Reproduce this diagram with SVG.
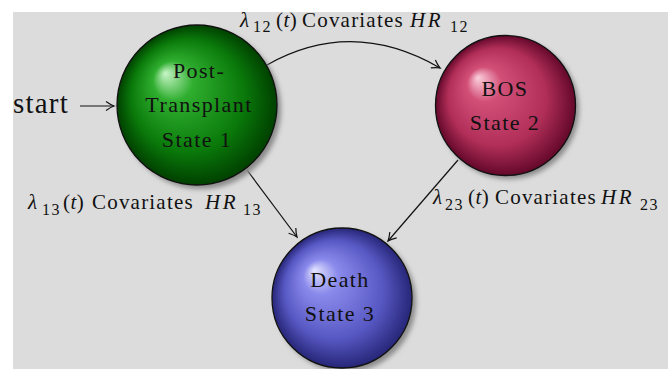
<svg xmlns="http://www.w3.org/2000/svg" width="668" height="369" viewBox="0 0 668 369">
<style>
.t{font-family:"Liberation Serif","Times New Roman",serif;font-size:21px;letter-spacing:1.2px;fill:#111}
.n{font-size:22px;letter-spacing:1.4px}
.it{font-style:italic}
.hr{letter-spacing:2.5px}
.ns{letter-spacing:0.4px}
.sub{font-size:16px;letter-spacing:1.5px}
.edge{fill:none;stroke:#111;stroke-width:1.2}
.ball{stroke:#111;stroke-width:1.3}
.shadow{fill:#8a8a8a;filter:url(#blur)}
</style>
<defs>
<filter id="blur" x="-20%" y="-20%" width="140%" height="140%"><feGaussianBlur stdDeviation="2.5"/></filter>
<marker id="arr" markerWidth="12" markerHeight="12" viewBox="-10 -6 12 12" refX="0" refY="0" orient="auto" markerUnits="userSpaceOnUse">
<path d="M-8,-4.5 Q-3,-1 0,0 Q-3,1 -8,4.5" fill="none" stroke="#111" stroke-width="1.2"/>
</marker>
<radialGradient id="gG" cx="0.5" cy="0.5" r="0.5" fx="0.3" fy="0.3">
<stop offset="0" stop-color="#c8f5c8"/><stop offset="0.25" stop-color="#2fae2f"/><stop offset="0.7" stop-color="#0a7a0a"/><stop offset="1" stop-color="#004000"/>
</radialGradient>
<radialGradient id="gP" cx="0.5" cy="0.5" r="0.5" fx="0.3" fy="0.3">
<stop offset="0" stop-color="#fbd0dc"/><stop offset="0.25" stop-color="#d24f78"/><stop offset="0.7" stop-color="#b02e58"/><stop offset="1" stop-color="#64082a"/>
</radialGradient>
<radialGradient id="gB" cx="0.5" cy="0.5" r="0.5" fx="0.3" fy="0.3">
<stop offset="0" stop-color="#e4e4ff"/><stop offset="0.25" stop-color="#8a8aec"/><stop offset="0.7" stop-color="#5858c4"/><stop offset="1" stop-color="#262678"/>
</radialGradient>
</defs>
<rect x="0" y="0" width="668" height="369" fill="#ffffff"/>
<rect x="13" y="12" width="655" height="357" fill="#dcdcdc"/>

<g id="connectors">
<line class="edge" x1="80" y1="106" x2="114" y2="106" marker-end="url(#arr)"/>
<path class="edge" d="M267,65 Q352,17 440,68" marker-end="url(#arr)"/>
<line class="edge" x1="247" y1="170" x2="297" y2="237" marker-end="url(#arr)"/>
<line class="edge" x1="458" y1="160" x2="388" y2="241" marker-end="url(#arr)"/>
</g>

<g id="start">
<text class="t" x="13" y="113" style="font-size:29px;letter-spacing:1.2px">start</text>
</g>

<g id="state1">
<circle class="shadow" cx="201" cy="109" r="80"/>
<circle class="ball" cx="197" cy="105" r="80" fill="url(#gG)"/>
<text class="t n" text-anchor="middle" x="199" y="78">Post-</text>
<text class="t n" text-anchor="middle" x="199" y="112">Transplant</text>
<text class="t n" text-anchor="middle" x="197" y="147">State 1</text>
</g>

<g id="state2">
<circle class="shadow" cx="509" cy="109" r="70"/>
<circle class="ball" cx="505.5" cy="105.5" r="70" fill="url(#gP)"/>
<text class="t n" text-anchor="middle" x="505" y="96">BOS</text>
<text class="t n" text-anchor="middle" x="505" y="130">State 2</text>
</g>

<g id="state3">
<circle class="shadow" cx="346" cy="302" r="70"/>
<circle class="ball" cx="342" cy="298" r="70" fill="url(#gB)"/>
<text class="t n" text-anchor="middle" x="340" y="287">Death</text>
<text class="t n" text-anchor="middle" x="340" y="321">State 3</text>
</g>

<g id="labels">
<text class="t" y="27"><tspan class="it" x="240">λ</tspan><tspan class="sub" x="253" y="32">12</tspan><tspan class="ns" x="276" y="27">(</tspan><tspan class="it ns">t</tspan><tspan class="ns">)</tspan><tspan x="302">Covariates</tspan><tspan class="it hr" x="410">HR</tspan><tspan class="sub" x="450" y="32">12</tspan></text>
<text class="t" y="208.5"><tspan class="it" x="28">λ</tspan><tspan class="sub" x="42" y="214.5">13</tspan><tspan class="ns" x="63" y="208.5">(</tspan><tspan class="it ns">t</tspan><tspan class="ns">)</tspan><tspan x="92">Covariates</tspan><tspan class="it hr" x="205">HR</tspan><tspan class="sub" x="243" y="214.5">13</tspan></text>
<text class="t" y="204"><tspan class="it" x="433">λ</tspan><tspan class="sub" x="445" y="210">23</tspan><tspan class="ns" x="468" y="204">(</tspan><tspan class="it ns">t</tspan><tspan class="ns">)</tspan><tspan x="495">Covariates</tspan><tspan class="it hr" x="601">HR</tspan><tspan class="sub" x="640" y="210">23</tspan></text>
</g>
</svg>
